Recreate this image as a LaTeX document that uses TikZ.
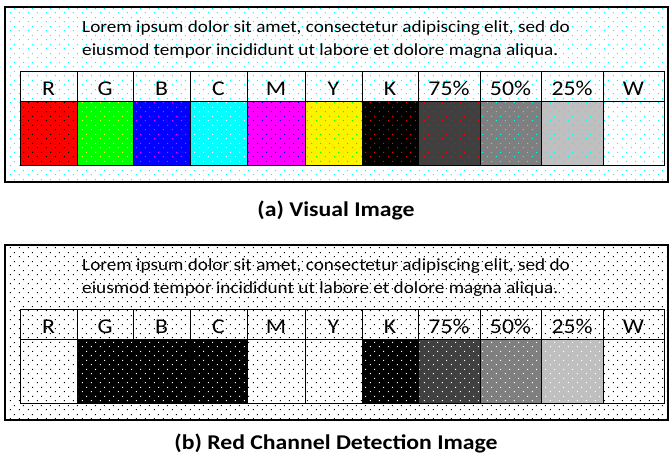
\documentclass[tikz,border=0pt]{standalone}
\usepackage{fontspec}
\setmainfont{Carlito}
\usetikzlibrary{patterns}
\definecolor{rgbcyan}{RGB}{0,255,255}
\definecolor{rgbmagenta}{RGB}{255,0,255}
\definecolor{rgbgreen}{RGB}{0,255,0}
\definecolor{gray75}{RGB}{64,64,64}
\definecolor{gray50}{RGB}{127,127,127}
\definecolor{gray25}{RGB}{191,191,191}
\pgfdeclarepatternformonly{sparsedots}{\pgfpointorigin}{\pgfpoint{9pt}{9pt}}{\pgfpoint{9pt}{9pt}}{%
  \pgfpathrectangle{\pgfpoint{1pt}{1pt}}{\pgfpoint{1.1pt}{1.1pt}}
  \pgfpathrectangle{\pgfpoint{5.5pt}{5.5pt}}{\pgfpoint{1.1pt}{1.1pt}}
  \pgfusepath{fill}}

\begin{document}
\begin{tikzpicture}[x=1pt,y=-1pt,
   frame/.style={draw=black,line width=1.3pt},
   grid/.style={draw=black,line width=0.8pt},
   dots/.style={pattern=sparsedots,pattern color=#1},
   lab/.style={font=\fontsize{21}{24}\selectfont,inner sep=0pt,anchor=base,xscale=1.13,transform shape},
   txt/.style={font=\fontsize{17}{20}\selectfont,inner sep=0pt,anchor=base west,xscale=1.13,transform shape},
   caption/.style={font=\bfseries\fontsize{21}{24}\selectfont,inner sep=0pt,anchor=base,xscale=1.13,transform shape}]
   \useasboundingbox (0,0) rectangle (671,455);
   % (a) visual image
   \fill[white] (5,7) rectangle (668,182);
   \fill[dots=rgbcyan] (5,7) rectangle (668,182);
   \node[txt] (la1) at (82,32) {Lorem ipsum dolor sit amet, consectetur adipiscing elit, sed do};
   \node[txt] (la2) at (82,55) {eiusmod tempor incididunt ut labore et dolore magna aliqua.};
   \foreach \xa/\xb/\name/\fc/\dc [count=\i] in {20/77/R/red/black,77/133/G/rgbgreen/yellow,
      133/190/B/blue/rgbmagenta,190/247/C/rgbcyan/white,247/305/M/rgbmagenta/blue,
      305/362/Y/yellow/rgbgreen,362/418/K/black/red,418/480/75\%/gray75/red,
      480/541/50\%/gray50/rgbcyan,541/603/25\%/gray25/rgbcyan,603/664/W/white/rgbcyan}{
      \fill[\fc] (\xa,101) rectangle (\xb,165);
      \fill[dots=\dc] (\xa,101) rectangle (\xb,165);
      \node[lab] (ha\i) at ({(\xa+\xb)/2},95) {\name};
   }
   \draw[grid] (20,71) rectangle (664,165) (20,101) -- (664,101);
   \foreach \x in {77,133,190,247,305,362,418,480,541,603}
      \draw[grid] (\x,71) -- (\x,165);
   \draw[frame] (5,7) rectangle (668,182);
   \node[caption] (capa) at (336,216) {(a) Visual Image};
   % (b) red channel
   \begin{scope}[yshift=-238pt]
   \fill[white] (5,7) rectangle (668,182);
   \fill[dots=black] (5,7) rectangle (668,182);
   \node[txt] (lb1) at (82,32) {Lorem ipsum dolor sit amet, consectetur adipiscing elit, sed do};
   \node[txt] (lb2) at (82,55) {eiusmod tempor incididunt ut labore et dolore magna aliqua.};
   \foreach \xa/\xb/\name/\fc/\dc [count=\i] in {20/77/R/white/black,77/133/G/black/white,
      133/190/B/black/white,190/247/C/black/white,247/305/M/white/black,
      305/362/Y/white/black,362/418/K/black/white,418/480/75\%/gray75/white,
      480/541/50\%/gray50/white,541/603/25\%/gray25/white,603/664/W/white/black}{
      \fill[\fc] (\xa,101) rectangle (\xb,165);
      \fill[dots=\dc] (\xa,101) rectangle (\xb,165);
      \node[lab] (hb\i) at ({(\xa+\xb)/2},95) {\name};
   }
   \draw[grid] (20,71) rectangle (664,165) (20,101) -- (664,101);
   \foreach \x in {77,133,190,247,305,362,418,480,541,603}
      \draw[grid] (\x,71) -- (\x,165);
   \draw[frame] (5,7) rectangle (668,182);
   \end{scope}
   \node[caption] (capb) at (336,449) {(b) Red Channel Detection Image};
\end{tikzpicture}
\end{document}
